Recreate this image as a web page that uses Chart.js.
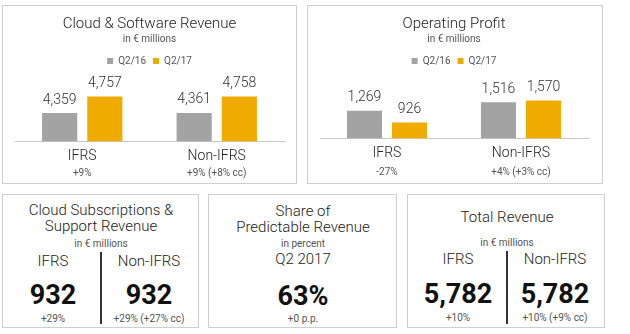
<!DOCTYPE html>
<html lang="en">
<head>
<meta charset="UTF-8">
<title>Q2 2017 Highlights</title>
<script src="https://cdn.jsdelivr.net/npm/chart.js"></script>
<style>
  body { margin: 0; width: 630px; height: 334px; background: #fff; position: relative; font-family: Roboto, "Liberation Sans", sans-serif; overflow: hidden; }
  .box { position: absolute; border: 1px solid #cfcfcf; box-sizing: border-box; }
  .box canvas { position: absolute; left: 0; top: 0; }
  .t { position: absolute; transform: translate(-50%, -50%); white-space: nowrap; color: #333; }
  .big { font-weight: bold; font-size: 27px; color: #111; }
  .small { font-size: 10px; color: #555; }
  .mid { font-size: 15px; font-weight: 300; color: #222; }
  .divider { position: absolute; width: 2px; background: #333; }
</style>
</head>
<body>
  <!-- bar charts -->
  <div class="box" style="left:2px; top:5px; width:295px; height:179px;">
    <canvas id="cloudChart" width="293" height="177"></canvas>
  </div>
  <div class="box" style="left:307px; top:5px; width:296px; height:179px;">
    <canvas id="profitChart" width="294" height="177"></canvas>
  </div>

  <!-- KPI boxes -->
  <div class="box" id="subsBox" style="left:2px; top:194px; width:197px; height:134px;"></div>
  <div class="box" id="shareBox" style="left:208px; top:194px; width:189px; height:134px;"></div>
  <div class="box" id="totalBox" style="left:407px; top:194px; width:198px; height:134px;"></div>

<script>
// data
const categories = ['IFRS', 'Non-IFRS'];
const seriesNames = ['Q2/16', 'Q2/17'];

const cloudQ216 = [4359, 4361];
const cloudQ217 = [4757, 4758];
const cloudChange = ['+9%', '+9% (+8% cc)'];

const profitQ216 = [1269, 1516];
const profitQ217 = [926, 1570];
const profitChange = ['-27%', '+4% (+3% cc)'];

const subsValues = [932, 932];
const subsChange = ['+29%', '+29% (+27% cc)'];

const shareValue = 63;
const shareChange = '+0 p.p.';

const totalValues = [5782, 5782];
const totalChange = ['+10%', '+10% (+9% cc)'];

const grayColor = '#a3a3a3';
const goldColor = '#f0ab00';
const fontFamily = 'Roboto, "Liberation Sans", sans-serif';

// value labels above bars + change line under the category names
const barLabels = {
    id: 'barLabels',
    afterDatasetsDraw(chart, args, opts) {
        const ctx = chart.ctx;
        ctx.save();
        ctx.textAlign = 'center';
        ctx.textBaseline = 'middle';
        ctx.font = '300 14px ' + fontFamily;
        ctx.fillStyle = '#333';
        chart.data.datasets.forEach((ds, di) => {
            chart.getDatasetMeta(di).data.forEach((bar, i) => {
                ctx.fillText(ds.data[i].toLocaleString('en-US'), bar.x, bar.y - 13);
            });
        });
        const xs = chart.scales.x;
        ctx.font = '10px ' + fontFamily;
        ctx.fillStyle = '#555';
        opts.change.forEach((t, i) => {
            ctx.fillText(t, xs.getPixelForValue(i), chart.chartArea.bottom + opts.offset);
        });
        ctx.restore();
    }
};

function barChart(id, title, q16, q17, change, yMin, yMax, padding, offset) {
    return new Chart(document.getElementById(id), {
        type: 'bar',
        data: {
            labels: categories,
            datasets: [
                { label: seriesNames[0], data: q16, backgroundColor: grayColor },
                { label: seriesNames[1], data: q17, backgroundColor: goldColor }
            ]
        },
        options: {
            responsive: false,
            animation: false,
            layout: { padding: padding },
            datasets: { bar: { categoryPercentage: 0.672, barPercentage: 0.778 } },
            scales: {
                x: {
                    grid: { display: false, drawTicks: false },
                    border: { display: true, color: '#c8c8c8', width: 1 },
                    ticks: { padding: 7, color: '#222', font: { family: fontFamily, size: 14, weight: 300 } }
                },
                y: { display: false, min: yMin, max: yMax }
            },
            plugins: {
                title: {
                    display: true, text: title, color: '#222',
                    font: { family: fontFamily, size: 15, weight: 300 },
                    padding: { top: 9, bottom: 0 }
                },
                subtitle: {
                    display: true, text: 'in € millions', color: '#555',
                    font: { family: fontFamily, size: 10 },
                    padding: { top: 0, bottom: 4 }
                },
                legend: {
                    labels: {
                        boxWidth: 6, boxHeight: 6, padding: 7, color: '#555',
                        font: { family: fontFamily, size: 10 }
                    }
                },
                tooltip: { enabled: false },
                barLabels: { change: change, offset: offset }
            }
        },
        plugins: [barLabels]
    });
}

barChart('cloudChart', 'Cloud & Software Revenue', cloudQ216, cloudQ217, cloudChange,
    3680, 5250, { left: 12, right: 12, bottom: 11, top: 0 }, 32);
barChart('profitChart', 'Operating Profit', profitQ216, profitQ217, profitChange,
    470, 2280, { left: 12, right: 14, bottom: 14, top: 0 }, 34);

// KPI boxes
const fmt = v => v.toLocaleString('en-US');

function put(box, cls, text, x, y) {
    const el = document.createElement('div');
    el.className = 't ' + cls;
    el.textContent = text;
    el.style.left = x + 'px';
    el.style.top = y + 'px';
    box.appendChild(el);
}

function divider(box, x, y1, y2) {
    const el = document.createElement('div');
    el.className = 'divider';
    el.style.left = (x - 1) + 'px';
    el.style.top = y1 + 'px';
    el.style.height = (y2 - y1) + 'px';
    box.appendChild(el);
}

// coordinates inside each box (box origin = outer top-left)
const subs = document.getElementById('subsBox');
put(subs, 'mid', 'Cloud Subscriptions &', 98, 15);
put(subs, 'mid', 'Support Revenue', 98, 31);
put(subs, 'small', 'in € millions', 98, 48);
put(subs, 'mid', categories[0], 50, 66);
put(subs, 'mid', categories[1], 146, 66);
put(subs, 'big', fmt(subsValues[0]), 50, 100);
put(subs, 'big', fmt(subsValues[1]), 146, 100);
put(subs, 'small', subsChange[0], 50, 123);
put(subs, 'small', subsChange[1], 146, 123);
divider(subs, 98, 57, 129);

const share = document.getElementById('shareBox');
put(share, 'mid', 'Share of', 94, 16);
put(share, 'mid', 'Predictable Revenue', 94, 32);
put(share, 'small', 'in percent', 94, 48);
put(share, 'mid', 'Q2 2017', 94, 64);
put(share, 'big', shareValue + '%', 94, 101);
put(share, 'small', shareChange, 94, 123);

const total = document.getElementById('totalBox');
put(total, 'mid', 'Total Revenue', 99, 22);
put(total, 'small', 'in € millions', 99, 47);
put(total, 'mid', categories[0], 50, 64);
put(total, 'mid', categories[1], 147, 64);
put(total, 'big', fmt(totalValues[0]), 50, 99);
put(total, 'big', fmt(totalValues[1]), 147, 99);
put(total, 'small', totalChange[0], 50, 122);
put(total, 'small', totalChange[1], 147, 122);
divider(total, 99, 56, 129);
</script>
</body>
</html>
